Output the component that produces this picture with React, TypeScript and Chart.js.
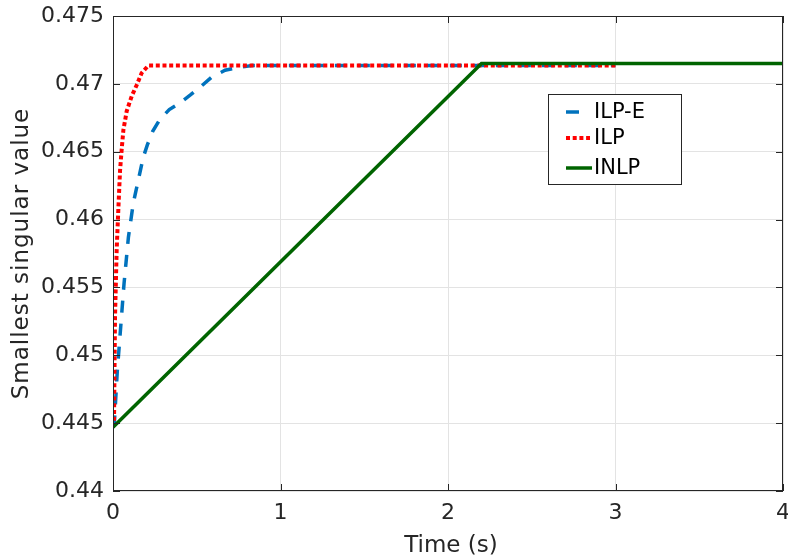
import { useEffect, useRef } from "react";
import { Chart, registerables } from "chart.js";

Chart.register(...registerables);

// ILP-E (blue dashed)
const ilpeX = [0, 0.008, 0.026, 0.046, 0.066, 0.092, 0.121, 0.151, 0.181, 0.205, 0.237, 0.281, 0.336, 0.4, 0.464, 0.524, 0.589, 0.669, 0.748, 0.83, 3];
const ilpeY = [0.4447, 0.445, 0.4489, 0.4521, 0.4553, 0.4587, 0.4612, 0.4629, 0.4646, 0.4655, 0.4665, 0.4674, 0.4681, 0.4686, 0.4692, 0.4698, 0.4705, 0.471, 0.4712, 0.47135, 0.47135];

// ILP (red dotted)
const ilpX = [0, 0.006, 0.012, 0.022, 0.032, 0.042, 0.052, 0.062, 0.082, 0.112, 0.141, 0.171, 0.211, 3];
const ilpY = [0.4447, 0.445, 0.4528, 0.4578, 0.4608, 0.4636, 0.4652, 0.4666, 0.468, 0.4691, 0.4699, 0.4708, 0.47135, 0.47135];

// INLP (green solid)
const inlpX = [0, 2.2, 4];
const inlpY = [0.4447, 0.4715, 0.4715];

const xTickLabels = ["0", "1", "2", "3", "4"];
const yTickLabels = ["0.44", "0.445", "0.45", "0.455", "0.46", "0.465", "0.47", "0.475"];
const legendLabels = ["ILP-E", "ILP", "INLP"];
const xTitle = "Time (s)";
const yTitle = "Smallest singular value";

const BLUE = "#0072BD";
const RED = "#FF0000";
const GREEN = "#006400";

const toPts = (xs: number[], ys: number[]) => xs.map((x, i) => ({ x, y: ys[i] }));

export default function App() {
  const ref = useRef<HTMLCanvasElement>(null);

  useEffect(() => {
    const canvas = ref.current!;
    const FONT = "'DejaVu Sans', sans-serif";
    const TXT = "#262626";

    const frame = {
      id: "frame",
      afterDatasetsDraw(chart: any) {
        const { ctx, chartArea } = chart;
        const { left, right, top, bottom } = chartArea;
        const xs = chart.scales.x;
        const ys = chart.scales.y;
        ctx.save();
        ctx.strokeStyle = "#262626";
        ctx.lineWidth = 1;
        ctx.strokeRect(left + 0.5, top + 0.5, right - left - 1, bottom - top - 1);
        const TL = 7;
        ctx.beginPath();
        xs.ticks.forEach((t: any) => {
          const p = Math.round(xs.getPixelForValue(t.value)) + 0.5;
          ctx.moveTo(p, bottom);
          ctx.lineTo(p, bottom - TL);
          ctx.moveTo(p, top);
          ctx.lineTo(p, top + TL);
        });
        ys.ticks.forEach((t: any) => {
          const p = Math.round(ys.getPixelForValue(t.value)) + 0.5;
          ctx.moveTo(left, p);
          ctx.lineTo(left + TL, p);
          ctx.moveTo(right, p);
          ctx.lineTo(right - TL, p);
        });
        ctx.stroke();
        ctx.restore();
      },
      afterDraw(chart: any) {
        const { ctx, chartArea } = chart;
        ctx.save();
        // axis titles
        ctx.fillStyle = TXT;
        ctx.font = `23px ${FONT}`;
        ctx.textAlign = "center";
        ctx.textBaseline = "alphabetic";
        ctx.fillText(xTitle, (chartArea.left + chartArea.right) / 2 + 3, 552);
        ctx.save();
        ctx.translate(28, (chartArea.top + chartArea.bottom) / 2);
        ctx.rotate(-Math.PI / 2);
        (ctx as any).letterSpacing = "1px";
        ctx.fillText(yTitle, 0, 0);
        ctx.restore();

        // legend
        const bx = 548.5, by = 94.5, bw = 133, bh = 90;
        ctx.fillStyle = "#ffffff";
        ctx.fillRect(bx, by, bw, bh);
        ctx.strokeStyle = "#262626";
        ctx.lineWidth = 1;
        ctx.strokeRect(bx, by, bw, bh);
        const rows = [
          { y: 112, color: BLUE, dash: [13, 20], x2: 579, lw: 3.5 },
          { y: 138, color: RED, dash: [4, 2.7], x2: 590, lw: 4 },
          { y: 168, color: GREEN, dash: [], x2: 592, lw: 3.5 },
        ];
        rows.forEach((r, i) => {
          ctx.beginPath();
          ctx.strokeStyle = r.color;
          ctx.lineWidth = r.lw;
          ctx.setLineDash(r.dash);
          ctx.moveTo(566, r.y);
          ctx.lineTo(r.x2, r.y);
          ctx.stroke();
          ctx.setLineDash([]);
          ctx.fillStyle = "#000000";
          ctx.font = `21px ${FONT}`;
          ctx.textAlign = "left";
          ctx.textBaseline = "middle";
          ctx.fillText(legendLabels[i], 594, r.y + 1);
        });
        ctx.restore();
      },
    };

    const chart = new Chart(canvas, {
      type: "line",
      data: {
        datasets: [
          {
            label: legendLabels[2],
            data: toPts(inlpX, inlpY),
            borderColor: GREEN,
            borderWidth: 3.5,
            pointRadius: 0,
            tension: 0,
            fill: false,
          },
          {
            label: legendLabels[1],
            data: toPts(ilpX, ilpY),
            borderColor: RED,
            borderWidth: 4,
            borderDash: [4, 2.7],
            pointRadius: 0,
            tension: 0,
            fill: false,
          },
          {
            label: legendLabels[0],
            data: toPts(ilpeX, ilpeY),
            borderColor: BLUE,
            borderWidth: 3.5,
            borderDash: [12, 11],
            pointRadius: 0,
            tension: 0,
            fill: false,
          },
        ],
      },
      options: {
        responsive: false,
        animation: false,
        layout: { padding: { top: 16, right: 5, left: 0, bottom: 0 } },
        plugins: { legend: { display: false }, tooltip: { enabled: false } },
        scales: {
          x: {
            type: "linear",
            min: 0,
            max: 4,
            ticks: {
              stepSize: 1,
              color: TXT,
              font: { family: FONT, size: 22 },
              padding: 9,
              maxRotation: 0,
              callback: (v: any) => xTickLabels[Math.round(Number(v))] ?? "",
            },
            grid: { color: "#e3e3e3", lineWidth: 1, drawTicks: false },
            border: { display: false },
            afterFit: (s: any) => {
              s.height = 65;
              s.paddingLeft = 0;
              s.paddingRight = 0;
            },
          },
          y: {
            type: "linear",
            min: 0.44,
            max: 0.475,
            ticks: {
              stepSize: 0.005,
              color: TXT,
              font: { family: FONT, size: 22 },
              padding: 9,
              callback: (v: any) => yTickLabels[Math.round((Number(v) - 0.44) / 0.005)] ?? "",
            },
            grid: { color: "#e3e3e3", lineWidth: 1, drawTicks: false },
            border: { display: false },
            afterFit: (s: any) => {
              s.width = 113;
              s.paddingTop = 0;
              s.paddingBottom = 0;
            },
          },
        },
      },
      plugins: [frame],
    } as any);

    return () => chart.destroy();
  }, []);

  return (
    <div style={{ position: "absolute", left: 0, top: 0, width: 788, height: 556, background: "#ffffff" }}>
      <canvas ref={ref} width={788} height={556} style={{ display: "block" }} />
    </div>
  );
}
